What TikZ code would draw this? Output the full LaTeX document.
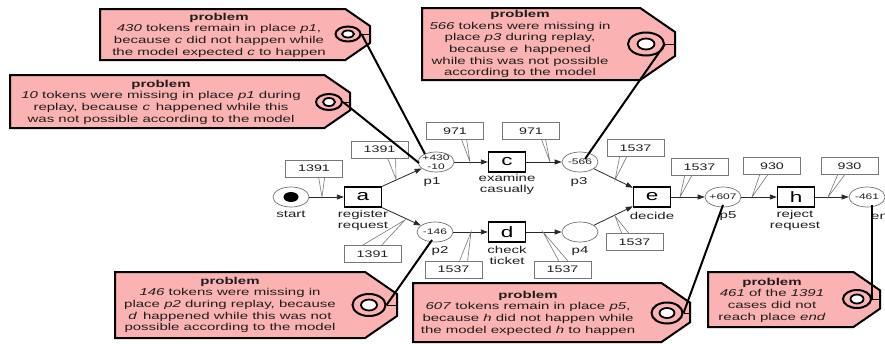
\documentclass[tikz,border=0pt]{standalone}
\usepackage{fontspec}
\setmainfont{Liberation Sans}[FakeStretch=1.5]
\usetikzlibrary{shapes.geometric,arrows.meta,calc}
\definecolor{tagpink}{RGB}{250,178,178}
\definecolor{boxgray}{RGB}{120,120,120}
\definecolor{arcgray}{RGB}{40,40,40}
\definecolor{txtdark}{RGB}{30,30,30}
\newcommand\tagshape[4]{%
  \pgfmathsetmacro\tdy{(#4-#2)/3}\pgfmathsetmacro\tdx{1.45*\tdy}%
  \draw[tagbox] (#1,#2) -- ({#3-\tdx},#2) -- (#3,{#2+\tdy}) -- (#3,{#4-\tdy}) -- ({#3-\tdx},#4) -- (#1,#4) -- cycle;}
\begin{document}
\begin{tikzpicture}[x=1pt,y=-1pt,
  place/.style={ellipse, draw=black!55, fill=white, minimum width=36pt, minimum height=20pt, inner sep=0pt, line width=0.7pt},
  ptxt/.style={inner sep=0pt, align=center, font=\fontsize{8}{9}\selectfont, text=txtdark},
  trans/.style={rectangle, draw=black, fill=white, line width=1.3pt, minimum width=37pt, minimum height=20pt, inner sep=0pt, font=\fontsize{15}{15}\selectfont},
  lbl/.style={inner sep=0pt, align=center, font=\fontsize{10}{11}\selectfont, text=txtdark},
  cnt/.style={rectangle, draw=boxgray, fill=white, line width=0.7pt, minimum width=57pt, minimum height=17pt, inner sep=0pt, font=\fontsize{9.5}{11}\selectfont, text=txtdark},
  tail/.style={draw=boxgray, line width=0.6pt},
  arc/.style={draw=arcgray, line width=0.8pt, -{Triangle[length=7pt,width=5pt]}},
  tagbox/.style={draw=black, fill=tagpink, line width=2pt, line join=miter},
  tagtxt/.style={inner sep=0pt, align=center, font=\fontsize{10}{11.7}\selectfont, text=txtdark},
  ring/.style={ellipse, draw=black, fill=tagpink, line width=2pt, inner sep=0pt},
  ringin/.style={ellipse, draw=black, fill=white, line width=1.8pt, inner sep=0pt},
  tagline/.style={draw=black, line width=2pt},
  string/.style={draw=black, line width=0.8pt}]
\useasboundingbox (0,0) rectangle (885,343);
\clip (0,0) rectangle (885,343);
\fill[white] (0,0) rectangle (885,343);

% ---------- net ----------
\node[place] (start) at (291,197) {};
\node[ellipse, fill=black, minimum width=15pt, minimum height=10pt, inner sep=0pt] (tok) at (start) {};
\node[trans] (a) at (363,197) {a};
\node[place] (p1) at (436,162) {};
\node[place] (p2) at (435,232) {};
\node[trans] (c) at (507,162) {c};
\node[trans] (d) at (507,232) {d};
\node[place] (p3) at (580,162) {};
\node[place] (p4) at (580,232) {};
\node[trans] (e) at (652,197) {e};
\node[place] (p5) at (723,197) {};
\node[trans] (h) at (796,197) {h};
\node[place] (end) at (867,197) {};

\node[ptxt] (p1t) at (p1) {+430\\-10};
\node[ptxt] (p2t) at (p2) {-146};
\node[ptxt] (p3t) at (p3) {-566};
\node[ptxt] (p5t) at (p5) {+607};
\node[ptxt] (endt) at (end) {-461};

\node[lbl] (lstart) at (291,214) {start};
\node[lbl] (la) at (363,220) {register\\request};
\node[lbl] (lp1) at (432,182) {p1};
\node[lbl] (lc) at (507,184) {examine\\casually};
\node[lbl] (lp3) at (579,182) {p3};
\node[lbl] (lp2) at (440,251) {p2};
\node[lbl] (ld) at (507,255) {check\\ticket};
\node[lbl] (lp4) at (580,251) {p4};
\node[lbl] (le) at (652,216) {decide};
\node[lbl] (lp5) at (728,216) {p5};
\node[lbl] (lh) at (795,220) {reject\\request};
\node[lbl, anchor=west] (lend) at (871,216) {end};

\draw[arc] (start) -- (a);
\draw[arc] (a.north east) -- (p1);
\draw[arc] (a.south east) -- (p2);
\draw[arc] (p1) -- (c);
\draw[arc] (p2) -- (d);
\draw[arc] (c) -- (p3);
\draw[arc] (d) -- (p4);
\draw[arc] (p3) -- (e);
\draw[arc] (p4) -- (e);
\draw[arc] (e) -- (p5);
\draw[arc] (p5) -- (h);
\draw[arc] (h) -- (end);

% ---------- count labels ----------
\coordinate (k1) at (322,197);
\coordinate (k2) at (396,179);
\coordinate (k3) at (405,220);
\coordinate (k4) at (470,162);
\coordinate (k5) at (550,162);
\coordinate (k6) at (471,232);
\coordinate (k7) at (543,232);
\coordinate (k8) at (615,180);
\coordinate (k9) at (615,216);
\coordinate (k10) at (680,197);
\coordinate (k11) at (752,197);
\coordinate (k12) at (828,197);

\node[cnt] (b1) at (314,168.5) {1391};
\node[cnt] (b2) at (379.5,149.5) {1391};
\node[cnt] (b3) at (372.5,254) {1391};
\node[cnt] (b4) at (455,131) {971};
\node[cnt] (b5) at (531,131) {971};
\node[cnt] (b6) at (453.5,269.5) {1537};
\node[cnt] (b7) at (562.5,269.5) {1537};
\node[cnt] (b8) at (635.5,148) {1537};
\node[cnt] (b9) at (634.5,242) {1537};
\node[cnt] (b10) at (699.5,167) {1537};
\node[cnt] (b11) at (772,166) {930};
\node[cnt] (b12) at (849.5,166) {930};

\draw[tail] ($(b1.south west)+(33.5,0)$) -- (k1) -- ($(b1.south west)+(39.5,0)$);
\draw[tail] ($(b2.south west)+(37,0)$) -- (k2) -- ($(b2.south west)+(45,0)$);
\draw[tail] ($(b3.north west)+(19,0)$) -- (k3) -- ($(b3.north west)+(38,0)$);
\draw[tail] ($(b4.south west)+(35.5,0)$) -- (k4) -- ($(b4.south west)+(40.5,0)$);
\draw[tail] ($(b5.south west)+(39.5,0)$) -- (k5) -- ($(b5.south west)+(43.5,0)$);
\draw[tail] ($(b6.north west)+(35,0)$) -- (k6) -- ($(b6.north west)+(43,0)$);
\draw[tail] ($(b7.north west)+(25,0)$) -- (k7) -- ($(b7.north west)+(34,0)$);
\draw[tail] ($(b8.south west)+(13,0)$) -- (k8) -- ($(b8.south west)+(20,0)$);
\draw[tail] ($(b9.north west)+(16,0)$) -- (k9) -- ($(b9.north west)+(23,0)$);
\draw[tail] ($(b10.south west)+(14,0)$) -- (k10) -- ($(b10.south west)+(21,0)$);
\draw[tail] ($(b11.south west)+(16.5,0)$) -- (k11) -- ($(b11.south west)+(24.5,0)$);
\draw[tail] ($(b12.south west)+(17,0)$) -- (k12) -- ($(b12.south west)+(24,0)$);

% ---------- problem tags ----------
\tagshape{100}{9}{370}{60}
\tagshape{10}{75}{350}{128}
\tagshape{422}{8}{675}{80}
\tagshape{115}{272}{397}{338}
\tagshape{413}{283}{690}{342}
\tagshape{708}{272}{880}{327}

\node[tagtxt] (tA) at (219,35) {\textbf{problem}\\\textit{430} tokens remain in place \textit{p1},\\because \textit{c} did not happen while\\the model expected \textit{c} to happen};
\node[tagtxt] (tB) at (161,102) {\textbf{problem}\\\textit{10} tokens were missing in place \textit{p1} during\\replay, because \textit{c}\, happened while this\\was not possible according to the model};
\node[tagtxt] (tC) at (520,44) {\textbf{problem}\\\textit{566} tokens were missing in\\place \textit{p3} during replay,\\because \textit{e}\, happened\\while this was not possible\\according to the model};
\node[tagtxt] (tD) at (230,305) {\textbf{problem}\\\textit{146} tokens were missing in\\place \textit{p2} during replay, because\\\textit{d}\, happened while this was not\\possible according to the model};
\node[tagtxt] (tE) at (528,313) {\textbf{problem}\\\textit{607} tokens remain in place \textit{p5},\\because \textit{h} did not happen while\\the model expected \textit{h} to happen};
\node[tagtxt] (tF) at (772,300) {\textbf{problem}\\\textit{461} of the \textit{1391}\\cases did not\\reach place \textit{end}};

\coordinate (tipA) at (370,34);
\coordinate (tipB) at (350,102);
\coordinate (tipC) at (675,44);
\coordinate (tipD) at (397,305);
\coordinate (tipE) at (690,313);
\coordinate (tipF) at (880,299);

\node[ring, minimum width=25pt, minimum height=15pt] (rA) at (348,34) {};
\node[ring, minimum width=26pt, minimum height=16pt] (rB) at (329,102) {};
\node[ring, minimum width=36pt, minimum height=23pt] (rC) at (646,44) {};
\node[ring, minimum width=33pt, minimum height=22pt] (rD) at (369,305) {};
\node[ring, minimum width=31pt, minimum height=21pt] (rE) at (667,313) {};
\node[ring, minimum width=28pt, minimum height=18pt] (rF) at (857,299) {};

\draw[string] (rA.east) -- (tipA);
\draw[string] (rB.east) -- (tipB);
\draw[string] (rC.east) -- (tipC);
\draw[string] (rD.east) -- (tipD);
\draw[string] (rE.east) -- (tipE);
\draw[string] (rF.east) -- (tipF);

\node[ringin, minimum width=12pt, minimum height=7pt] (iA) at (rA) {};
\node[ringin, minimum width=12pt, minimum height=8pt] (iB) at (rB) {};
\node[ringin, minimum width=17pt, minimum height=11pt] (iC) at (rC) {};
\node[ringin, minimum width=16pt, minimum height=11pt] (iD) at (rD) {};
\node[ringin, minimum width=15pt, minimum height=10pt] (iE) at (rE) {};
\node[ringin, minimum width=13pt, minimum height=9pt] (iF) at (rF) {};

\draw[tagline] (rA.east) -- ($(p1.center)+(-11,-8)$);
\draw[tagline] (rB.east) -- ($(p1.center)+(-17,1)$);
\draw[tagline] (rC.east) -- ($(p3.center)+(5,-3)$);
\draw[tagline] (rD.east) -- ($(p2.center)+(-3,8)$);
\draw[tagline] (rE.east) -- ($(p5.center)+(0,8)$);
\draw[tagline] (rF.east) -- ($(end.center)+(5,8)$);
\end{tikzpicture}
\end{document}
